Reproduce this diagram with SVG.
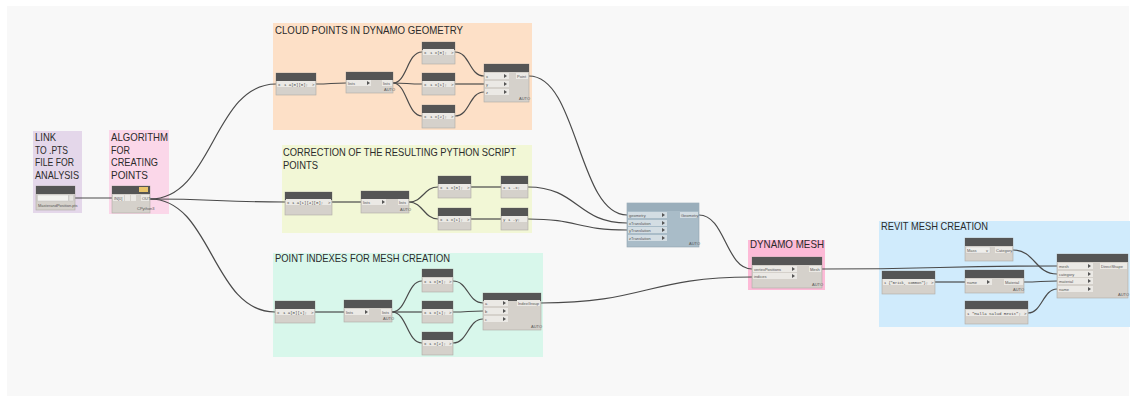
<svg xmlns="http://www.w3.org/2000/svg" width="1133" height="398" viewBox="0 0 1133 398">
<style>
.hdr{fill:#555555}
.bd{fill:#d5d1cb;stroke:#aeaba6;stroke-width:0.6}
.bbd{fill:#a9bcc8;stroke:#8fa2ae;stroke-width:0.6}
.bhdr{fill:#9aaebb}
.pr{fill:#ebe9e5}
.bpr{fill:#d3dde3}
.tri{fill:#555}
.pt{font-family:"Liberation Sans",Arial,sans-serif;font-size:4px;fill:#555}
.ct{font-family:"Liberation Mono",monospace;font-size:4px;fill:#444}
.gt{font-family:"Liberation Sans",Arial,sans-serif;font-size:10.5px;fill:#2b2b2b}
.w{fill:none;stroke:#4a4a4a;stroke-width:1.2}
</style>
<rect x="7" y="6" width="1122" height="390" fill="#f8f8f8"/>

<g id="groups">
<rect x="33" y="131" width="49" height="82" fill="#e4d7ea"/>
<rect x="109" y="130" width="60" height="84" fill="#fbd7e9"/>
<rect x="273" y="23" width="259" height="107" fill="#fde0c7"/>
<rect x="282" y="145" width="250" height="88" fill="#f2f7d6"/>
<rect x="273" y="253" width="270" height="104" fill="#d8f7eb"/>
<rect x="748" y="240" width="77" height="50" fill="#fdbad7"/>
<rect x="879" y="221" width="251" height="106" fill="#d0ebfc"/>
<text class="gt" x="35" y="141" textLength="21" lengthAdjust="spacingAndGlyphs">LINK</text>
<text class="gt" x="35" y="153.5" textLength="33" lengthAdjust="spacingAndGlyphs">TO .PTS</text>
<text class="gt" x="35" y="166" textLength="39" lengthAdjust="spacingAndGlyphs">FILE FOR</text>
<text class="gt" x="35" y="178.5" textLength="44" lengthAdjust="spacingAndGlyphs">ANALYSIS</text>
<text class="gt" x="111" y="141" textLength="57" lengthAdjust="spacingAndGlyphs">ALGORITHM</text>
<text class="gt" x="111" y="153.5" textLength="19" lengthAdjust="spacingAndGlyphs">FOR</text>
<text class="gt" x="111" y="166" textLength="47" lengthAdjust="spacingAndGlyphs">CREATING</text>
<text class="gt" x="111" y="178.5" textLength="37" lengthAdjust="spacingAndGlyphs">POINTS</text>
<text class="gt" x="275" y="34" textLength="188" lengthAdjust="spacingAndGlyphs">CLOUD POINTS IN DYNAMO GEOMETRY</text>
<text class="gt" x="283" y="156" textLength="233" lengthAdjust="spacingAndGlyphs">CORRECTION OF THE RESULTING PYTHON SCRIPT</text>
<text class="gt" x="283" y="168.5" textLength="35" lengthAdjust="spacingAndGlyphs">POINTS</text>
<text class="gt" x="275" y="262" textLength="175" lengthAdjust="spacingAndGlyphs">POINT INDEXES FOR MESH CREATION</text>
<text class="gt" x="750" y="248" textLength="74" lengthAdjust="spacingAndGlyphs">DYNAMO MESH</text>
<text class="gt" x="881" y="230" textLength="107" lengthAdjust="spacingAndGlyphs">REVIT MESH CREATION</text>
</g>

<g id="connectors">
<path class="w" d="M75 198 L112 198"/>
<path class="w" d="M150 199 C213 199 213 84 276 84"/>
<path class="w" d="M150 199 C217 199 217 202 285 202"/>
<path class="w" d="M150 199 C212 199 212 312 275 312"/>
<path class="w" d="M316 84 C331 84 331 83 346 83"/>
<path class="w" d="M393 83 C407 83 407 52 422 52"/>
<path class="w" d="M393 83 C407 83 407 84 422 84"/>
<path class="w" d="M393 83 C407 83 407 116 422 116"/>
<path class="w" d="M455 52 C470 52 469 76 484 76"/>
<path class="w" d="M455 84 C470 84 469 84 484 84"/>
<path class="w" d="M455 116 C470 116 469 92 484 92"/>
<path class="w" d="M529 76 C578 76 578 215 627 215"/>
<path class="w" d="M332 202 L361 202"/>
<path class="w" d="M409 202 C423 202 424 187 438 187"/>
<path class="w" d="M409 202 C423 202 424 219 438 219"/>
<path class="w" d="M471 187 L501 187"/>
<path class="w" d="M471 219 L501 219"/>
<path class="w" d="M528 187 C578 187 577 223 627 223"/>
<path class="w" d="M528 219 C578 219 577 230 627 230"/>
<path class="w" d="M315 312 L344 312"/>
<path class="w" d="M392 312 C407 312 407 281 422 281"/>
<path class="w" d="M392 312 L422 312"/>
<path class="w" d="M392 312 C407 312 407 343 422 343"/>
<path class="w" d="M453 281 C468 281 468 303 483 303"/>
<path class="w" d="M453 312 C468 312 468 311 483 311"/>
<path class="w" d="M453 343 C468 343 468 319 483 319"/>
<path class="w" d="M541 303 C646 303 647 277 752 277"/>
<path class="w" d="M699 215 C725 215 726 269 752 269"/>
<path class="w" d="M822 269 C940 269 939 266 1057 266"/>
<path class="w" d="M1013 250 C1035 250 1035 274 1057 274"/>
<path class="w" d="M935 282 L965 282"/>
<path class="w" d="M1024 282 C1040 282 1041 281 1057 281"/>
<path class="w" d="M1028 313 C1042 313 1043 289 1057 289"/>
</g>

<g id="node-file-path">
<rect class="bd" x="36" y="186" width="39" height="24"/>
<rect class="hdr" x="36" y="186" width="39" height="8"/>
<rect x="37.5" y="195" width="31" height="6" fill="#f3f2ef" stroke="#bbb" stroke-width="0.4"/>
<rect x="69" y="195" width="4.5" height="6" fill="#e6e4e0" stroke="#bbb" stroke-width="0.4"/>
<text class="pt" x="38" y="206.5">MasterandPosition.pts</text>
</g>

<g id="node-python">
<rect class="bd" x="112" y="186" width="38" height="27"/>
<rect class="hdr" x="112" y="186" width="38" height="8"/>
<rect x="139" y="187" width="9" height="5" fill="#e8c46a"/>
<rect class="pr" x="113" y="195" width="11" height="6"/>
<text class="pt" x="114" y="199.5">IN[0]</text>
<rect class="pr" x="125" y="195" width="5" height="6"/>
<rect class="pr" x="131" y="195" width="5" height="6"/>
<rect class="pr" x="141" y="195" width="8" height="6"/>
<text class="pt" x="142" y="199.5">OUT</text>
<text class="pt" x="137" y="210">CPython3</text>
</g>

<g id="node-cloud-cb1">
<rect class="bd" x="276" y="73" width="40" height="22"/>
<rect class="hdr" x="276" y="73" width="40" height="8"/>
<rect class="pr" x="277" y="81" width="38" height="6"/>
<text class="ct" x="278" y="85.5">x</text>
<text class="ct" x="284" y="85.5">1 a[0][0];</text>
<text class="ct" x="312" y="85.5">&gt;</text>
</g>
<g id="node-cloud-transpose">
<rect class="bd" x="346" y="72" width="47" height="21"/>
<rect class="hdr" x="346" y="72" width="47" height="8"/>
<rect class="pr" x="347" y="80" width="24" height="6"/>
<text class="pt" x="348" y="84.5">lists</text>
<path class="tri" d="M367 81 L370 83 L367 85 Z"/>
<rect class="pr" x="382" y="80" width="10" height="6"/>
<text class="pt" x="383" y="84.5">lists</text>
<text class="pt" x="384" y="91">AUTO</text>
</g>
<g id="node-cloud-x">
<rect class="bd" x="422" y="42" width="33" height="22"/>
<rect class="hdr" x="422" y="42" width="33" height="8"/>
<rect class="pr" x="423" y="49" width="31" height="6"/>
<text class="ct" x="424" y="53.5">x</text>
<text class="ct" x="430" y="53.5">1 x[0];</text>
<text class="ct" x="451" y="53.5">&gt;</text>
</g>
<g id="node-cloud-y">
<rect class="bd" x="422" y="73" width="33" height="22"/>
<rect class="hdr" x="422" y="73" width="33" height="8"/>
<rect class="pr" x="423" y="81" width="31" height="6"/>
<text class="ct" x="424" y="85.5">x</text>
<text class="ct" x="430" y="85.5">1 x[1];</text>
<text class="ct" x="451" y="85.5">&gt;</text>
</g>
<g id="node-cloud-z">
<rect class="bd" x="422" y="105" width="33" height="23"/>
<rect class="hdr" x="422" y="105" width="33" height="8"/>
<rect class="pr" x="423" y="113" width="31" height="6"/>
<text class="ct" x="424" y="117.5">x</text>
<text class="ct" x="430" y="117.5">1 x[2];</text>
<text class="ct" x="451" y="117.5">&gt;</text>
</g>
<g id="node-point">
<rect class="bd" x="484" y="64" width="45" height="38"/>
<rect class="hdr" x="484" y="64" width="45" height="8"/>
<rect class="pr" x="485" y="73" width="24" height="6"/>
<text class="pt" x="486" y="77.5">x</text>
<path class="tri" d="M504 74 L507 76 L504 78 Z"/>
<rect class="pr" x="485" y="81" width="24" height="6"/>
<text class="pt" x="486" y="85.5">y</text>
<path class="tri" d="M504 82 L507 84 L504 86 Z"/>
<rect class="pr" x="485" y="89" width="24" height="6"/>
<text class="pt" x="486" y="93.5">z</text>
<path class="tri" d="M504 90 L507 92 L504 94 Z"/>
<rect class="pr" x="516" y="73" width="12" height="6"/>
<text class="pt" x="517" y="77.5">Point</text>
<text class="pt" x="519" y="100">AUTO</text>
</g>

<g id="node-corr-cb1">
<rect class="bd" x="285" y="192" width="47" height="23"/>
<rect class="hdr" x="285" y="192" width="47" height="8"/>
<rect class="pr" x="286" y="199" width="45" height="6"/>
<text class="ct" x="287" y="203.5">x</text>
<text class="ct" x="292" y="203.5">1 a[1][4][0];</text>
<text class="ct" x="328" y="203.5">&gt;</text>
</g>
<g id="node-corr-transpose">
<rect class="bd" x="361" y="191" width="48" height="22"/>
<rect class="hdr" x="361" y="191" width="48" height="8"/>
<rect class="pr" x="362" y="199" width="24" height="6"/>
<text class="pt" x="363" y="203.5">lists</text>
<path class="tri" d="M382 200 L385 202 L382 204 Z"/>
<rect class="pr" x="398" y="199" width="10" height="6"/>
<text class="pt" x="399" y="203.5">lists</text>
<text class="pt" x="400" y="210.5">AUTO</text>
</g>
<g id="node-corr-x">
<rect class="bd" x="438" y="176" width="33" height="22"/>
<rect class="hdr" x="438" y="176" width="33" height="8"/>
<rect class="pr" x="439" y="184" width="31" height="6"/>
<text class="ct" x="440" y="188.5">x</text>
<text class="ct" x="446" y="188.5">1 x[0];</text>
<text class="ct" x="467" y="188.5">&gt;</text>
</g>
<g id="node-corr-y">
<rect class="bd" x="438" y="208" width="33" height="22"/>
<rect class="hdr" x="438" y="208" width="33" height="8"/>
<rect class="pr" x="439" y="216" width="31" height="6"/>
<text class="ct" x="440" y="220.5">x</text>
<text class="ct" x="446" y="220.5">1 x[1];</text>
<text class="ct" x="467" y="220.5">&gt;</text>
</g>
<g id="node-corr-negx">
<rect class="bd" x="501" y="176" width="27" height="22"/>
<rect class="hdr" x="501" y="176" width="27" height="8"/>
<rect class="pr" x="502" y="184" width="25" height="6"/>
<text class="ct" x="503" y="188.5">x</text>
<text class="ct" x="508" y="188.5">1 -x;</text>
</g>
<g id="node-corr-negy">
<rect class="bd" x="501" y="208" width="27" height="22"/>
<rect class="hdr" x="501" y="208" width="27" height="8"/>
<rect class="pr" x="502" y="216" width="25" height="6"/>
<text class="ct" x="503" y="220.5">y</text>
<text class="ct" x="508" y="220.5">1 -y;</text>
</g>

<g id="node-idx-cb1">
<rect class="bd" x="275" y="301" width="40" height="22"/>
<rect class="hdr" x="275" y="301" width="40" height="8"/>
<rect class="pr" x="276" y="309" width="38" height="6"/>
<text class="ct" x="277" y="313.5">x</text>
<text class="ct" x="283" y="313.5">1 a[0][1];</text>
<text class="ct" x="311" y="313.5">&gt;</text>
</g>
<g id="node-idx-transpose">
<rect class="bd" x="344" y="300" width="48" height="22"/>
<rect class="hdr" x="344" y="300" width="48" height="8"/>
<rect class="pr" x="345" y="309" width="24" height="6"/>
<text class="pt" x="346" y="313.5">lists</text>
<path class="tri" d="M365 310 L368 312 L365 314 Z"/>
<rect class="pr" x="381" y="309" width="10" height="6"/>
<text class="pt" x="382" y="313.5">lists</text>
<text class="pt" x="383" y="319.5">AUTO</text>
</g>
<g id="node-idx-a">
<rect class="bd" x="422" y="269" width="31" height="23"/>
<rect class="hdr" x="422" y="269" width="31" height="8"/>
<rect class="pr" x="423" y="278" width="29" height="6"/>
<text class="ct" x="424" y="282.5">x</text>
<text class="ct" x="429" y="282.5">1 x[0];</text>
<text class="ct" x="449" y="282.5">&gt;</text>
</g>
<g id="node-idx-b">
<rect class="bd" x="422" y="301" width="31" height="22"/>
<rect class="hdr" x="422" y="301" width="31" height="8"/>
<rect class="pr" x="423" y="309" width="29" height="6"/>
<text class="ct" x="424" y="313.5">x</text>
<text class="ct" x="429" y="313.5">1 x[1];</text>
<text class="ct" x="449" y="313.5">&gt;</text>
</g>
<g id="node-idx-c">
<rect class="bd" x="422" y="332" width="31" height="23"/>
<rect class="hdr" x="422" y="332" width="31" height="8"/>
<rect class="pr" x="423" y="340" width="29" height="6"/>
<text class="ct" x="424" y="344.5">x</text>
<text class="ct" x="429" y="344.5">1 x[2];</text>
<text class="ct" x="449" y="344.5">&gt;</text>
</g>
<g id="node-indexgroup">
<rect class="bd" x="483" y="293" width="58" height="37"/>
<rect class="hdr" x="483" y="293" width="58" height="8"/>
<rect class="pr" x="484" y="300" width="24" height="6"/>
<text class="pt" x="485" y="304.5">a</text>
<path class="tri" d="M503 301 L506 303 L503 305 Z"/>
<rect class="pr" x="484" y="308" width="24" height="6"/>
<text class="pt" x="485" y="312.5">b</text>
<path class="tri" d="M503 309 L506 311 L503 313 Z"/>
<rect class="pr" x="484" y="316" width="24" height="6"/>
<text class="pt" x="485" y="320.5">c</text>
<path class="tri" d="M503 317 L506 319 L503 321 Z"/>
<rect class="pr" x="517" y="300" width="23" height="6"/>
<text class="pt" x="518" y="304.5">IndexGroup</text>
<text class="pt" x="531" y="328">AUTO</text>
</g>

<g id="node-translate">
<rect class="bbd" x="627" y="203" width="72" height="44"/>
<rect class="bhdr" x="627" y="203" width="72" height="8"/>
<rect class="bpr" x="628" y="212" width="39" height="6"/>
<text class="pt" x="629" y="216.5">geometry</text>
<path class="tri" d="M662 213 L665 215 L662 217 Z"/>
<rect class="bpr" x="628" y="220" width="39" height="6"/>
<text class="pt" x="629" y="224.5">xTranslation</text>
<path class="tri" d="M662 221 L665 223 L662 225 Z"/>
<rect class="bpr" x="628" y="227" width="39" height="6"/>
<text class="pt" x="629" y="231.5">yTranslation</text>
<path class="tri" d="M662 228 L665 230 L662 232 Z"/>
<rect class="bpr" x="628" y="235" width="39" height="6"/>
<text class="pt" x="629" y="239.5">zTranslation</text>
<path class="tri" d="M662 236 L665 238 L662 240 Z"/>
<rect class="bpr" x="680" y="212" width="18" height="6"/>
<text class="pt" x="681" y="216.5">Geometry</text>
<text class="pt" x="689" y="245">AUTO</text>
</g>

<g id="node-mesh">
<rect class="bd" x="752" y="257" width="70" height="31"/>
<rect class="hdr" x="752" y="257" width="70" height="8"/>
<rect class="pr" x="753" y="266" width="44" height="6"/>
<text class="pt" x="754" y="270.5">vertexPositions</text>
<path class="tri" d="M792 267 L795 269 L792 271 Z"/>
<rect class="pr" x="753" y="273" width="44" height="6"/>
<text class="pt" x="754" y="277.5">indices</text>
<path class="tri" d="M792 274 L795 276 L792 278 Z"/>
<rect class="pr" x="809" y="266" width="12" height="6"/>
<text class="pt" x="810" y="270.5">Mesh</text>
<text class="pt" x="812" y="286">AUTO</text>
</g>

<g id="node-category">
<rect class="bd" x="965" y="238" width="48" height="23"/>
<rect class="hdr" x="965" y="238" width="48" height="8"/>
<rect x="966" y="247" width="24" height="6" fill="#efeeeb" stroke="#bbb" stroke-width="0.3"/>
<text class="pt" x="967" y="251.5">Mass</text>
<text class="pt" x="986" y="251.5">v</text>
<rect class="pr" x="995" y="247" width="17" height="6"/>
<text class="pt" x="996" y="251.5">Category</text>
</g>
<g id="node-brick-cb">
<rect class="bd" x="882" y="271" width="53" height="23"/>
<rect class="hdr" x="882" y="271" width="53" height="8"/>
<rect class="pr" x="883" y="279" width="51" height="6"/>
<text class="ct" x="884" y="283.5" textLength="44" lengthAdjust="spacingAndGlyphs">1 {"Brick, Common"};</text>
<text class="ct" x="931" y="283.5">&gt;</text>
</g>
<g id="node-material">
<rect class="bd" x="965" y="270" width="59" height="23"/>
<rect class="hdr" x="965" y="270" width="59" height="8"/>
<rect class="pr" x="966" y="279" width="26" height="6"/>
<text class="pt" x="967" y="283.5">name</text>
<path class="tri" d="M987 280 L990 282 L987 284 Z"/>
<rect class="pr" x="1004" y="279" width="19" height="6"/>
<text class="pt" x="1005" y="283.5">Material</text>
<text class="pt" x="1013" y="291">AUTO</text>
</g>
<g id="node-name-cb">
<rect class="bd" x="965" y="301" width="63" height="23"/>
<rect class="hdr" x="965" y="301" width="63" height="8"/>
<rect class="pr" x="966" y="310" width="61" height="6"/>
<text class="ct" x="967" y="314.5" textLength="54" lengthAdjust="spacingAndGlyphs">1 "Malla Salud Revit";</text>
<text class="ct" x="1024" y="314.5">&gt;</text>
</g>
<g id="node-directshape">
<rect class="bd" x="1057" y="254" width="71" height="44"/>
<rect class="hdr" x="1057" y="254" width="71" height="8"/>
<rect class="pr" x="1058" y="263" width="35" height="6"/>
<text class="pt" x="1059" y="267.5">mesh</text>
<path class="tri" d="M1088 264 L1091 266 L1088 268 Z"/>
<rect class="pr" x="1058" y="271" width="35" height="6"/>
<text class="pt" x="1059" y="275.5">category</text>
<path class="tri" d="M1088 272 L1091 274 L1088 276 Z"/>
<rect class="pr" x="1058" y="278" width="35" height="6"/>
<text class="pt" x="1059" y="282.5">material</text>
<path class="tri" d="M1088 279 L1091 281 L1088 283 Z"/>
<rect class="pr" x="1058" y="286" width="35" height="6"/>
<text class="pt" x="1059" y="290.5">name</text>
<path class="tri" d="M1088 287 L1091 289 L1088 291 Z"/>
<rect class="pr" x="1100" y="263" width="27" height="6"/>
<text class="pt" x="1101" y="267.5">DirectShape</text>
<text class="pt" x="1118" y="296">AUTO</text>
</g>
</svg>
